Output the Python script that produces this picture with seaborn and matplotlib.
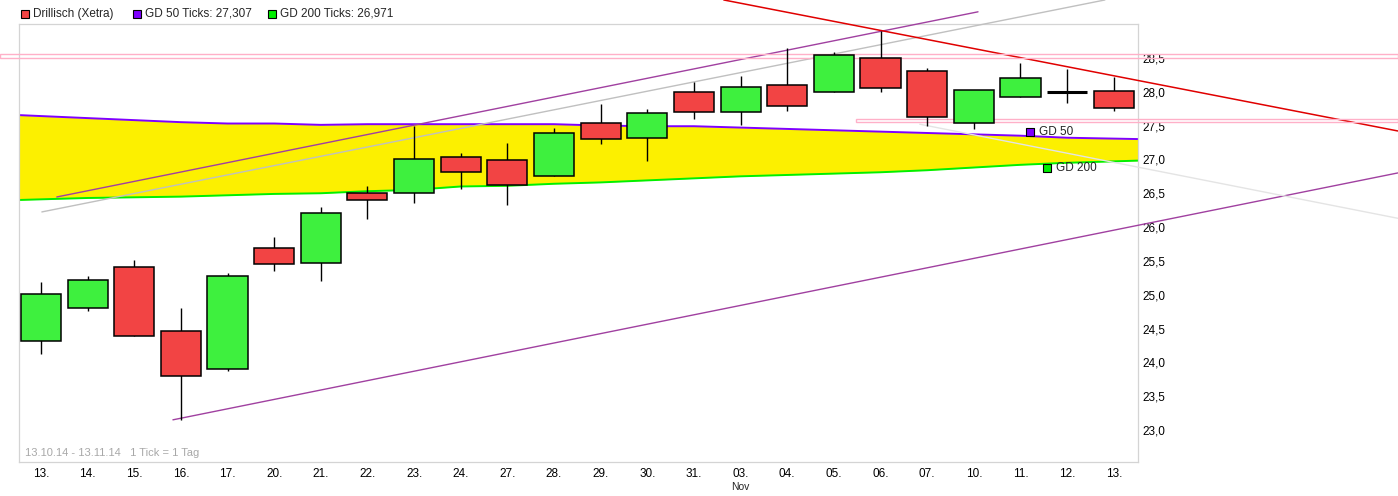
import numpy as np
import pandas as pd
import seaborn as sns
import matplotlib.pyplot as plt
from matplotlib.patches import Rectangle

# daily candles, Drillisch (Xetra), 13.10.14 - 13.11.14
days = ['13.', '14.', '15.', '16.', '17.', '20.', '21.', '22.', '23.', '24.', '27.', '28.',
        '29.', '30.', '31.', '03.', '04.', '05.', '06.', '07.', '10.', '11.', '12.', '13.']
opens = [24.31, 24.80, 25.41, 24.46, 23.90, 25.69, 25.47, 26.50, 26.50, 27.04, 26.99, 26.75,
         27.54, 27.32, 28.00, 27.70, 28.10, 28.00, 28.50, 28.31, 27.54, 27.92, 28.00, 28.01]
highs = [25.19, 25.28, 25.51, 24.80, 25.32, 25.85, 26.30, 26.61, 27.49, 27.09, 27.24, 27.46,
         27.82, 27.75, 28.14, 28.23, 28.65, 28.59, 28.90, 28.35, 28.03, 28.43, 28.34, 28.22]
lows = [24.12, 24.76, 24.39, 23.15, 23.88, 25.35, 25.20, 26.12, 26.35, 26.57, 26.33, 26.75,
        27.23, 26.98, 27.60, 27.51, 27.72, 28.00, 28.00, 27.49, 27.45, 27.92, 27.83, 27.72]
closes = [25.01, 25.22, 24.39, 23.80, 25.28, 25.45, 26.21, 26.40, 27.01, 26.81, 26.62, 27.39,
          27.30, 27.69, 27.70, 28.07, 27.79, 28.54, 28.06, 27.63, 28.03, 28.20, 28.00, 27.76]

# moving averages
gd50 = [27.64, 27.61, 27.58, 27.55, 27.53, 27.53, 27.51, 27.52, 27.52, 27.52, 27.52, 27.52,
        27.50, 27.49, 27.49, 27.47, 27.45, 27.43, 27.41, 27.39, 27.37, 27.35, 27.32, 27.307]
gd200 = [26.41, 26.43, 26.44, 26.45, 26.47, 26.49, 26.50, 26.53, 26.55, 26.60, 26.61, 26.64,
         26.66, 26.69, 26.72, 26.75, 26.77, 26.79, 26.81, 26.84, 26.88, 26.92, 26.95, 26.971]

# drawn trend lines: (day index, price) end points
upper_channel = [(0.34, 26.445), (20.09, 29.18)]
gray_line = [(0.02, 26.224), (22.81, 29.355)]
red_line = [(14.64, 29.355), (29.09, 27.42)]
lower_channel = [(2.83, 23.153), (29.09, 26.80)]
light_line = [(18.84, 27.52), (29.09, 26.13)]
# horizontal marker bands (from day, to day, low, high)
bands = [(-0.88, 29.09, 28.505, 28.56), (17.47, 29.09, 27.545, 27.60)]

sns.set_theme(style='white')
plt.rcParams['font.family'] = ['Liberation Sans', 'DejaVu Sans']

W, H = 1398, 496
fig = plt.figure(figsize=(W / 100, H / 100), dpi=100)
ax = fig.add_axes([19 / W, 34 / H, 1119 / W, 438 / H])

x = np.arange(len(days))
x_left, x_right = -0.47, 23.52


def extend(v):
    # carry the average out to the frame edges
    v = np.asarray(v, dtype=float)
    return np.r_[v[0] - (v[1] - v[0]) * 0.47, v, v[-1] + (v[-1] - v[-2]) * 0.52]


ext_x = np.r_[x_left, x, x_right]
ax.fill_between(ext_x, extend(gd200), extend(gd50), color='#fcf000', lw=0, zorder=1)

ma = pd.DataFrame({'x': ext_x, 'GD 50': extend(gd50), 'GD 200': extend(gd200)})
ma = ma.melt(id_vars='x', var_name='line', value_name='price')
sns.lineplot(data=ma, x='x', y='price', hue='line', palette={'GD 50': '#7f00ff', 'GD 200': '#00f000'},
             legend=False, ax=ax, lw=1.4, zorder=2)

# trend lines (they run past the frame)
for pts, col, lw in [(upper_channel, '#a040a0', 1.0), (gray_line, '#c0c0c0', 1.0),
                     (red_line, '#e00000', 1.1), (lower_channel, '#a040a0', 1.0),
                     (light_line, '#e4e4e4', 1.0)]:
    ax.plot([p[0] for p in pts], [p[1] for p in pts], color=col, lw=lw, clip_on=False, zorder=3)

for x0, x1, y0, y1 in bands:
    ax.add_patch(Rectangle((x0, y0), x1 - x0, y1 - y0, fill=False, edgecolor='#ffb0c8',
                           lw=1.0, clip_on=False, zorder=3))

# candles
o, c = np.array(opens), np.array(closes)
colors = np.where(c >= o, '#3ef03e', '#f24444')
edge_w = np.where(np.isclose(o, c), 2.2, 1.1)
ax.vlines(x, lows, highs, color='black', lw=1.0, zorder=4)
ax.bar(x, np.abs(c - o), bottom=np.minimum(o, c), width=0.86, color=colors,
       edgecolor='black', linewidth=edge_w, zorder=5)

# labels for the averages
ax.scatter([21.2], [gd50[-1] + 0.098], marker='s', s=36, color='#7f00ff', edgecolor='black', lw=0.8, zorder=6)
ax.annotate('GD 50', (21.2, gd50[-1] + 0.098), xytext=(6.5, 0), textcoords='offset points',
            va='center', fontsize=8.5, zorder=6)
ax.scatter([21.56], [gd200[-1] - 0.097], marker='s', s=36, color='#00f000', edgecolor='black', lw=0.8, zorder=6)
ax.annotate('GD 200', (21.56, gd200[-1] - 0.097), xytext=(6.5, 0), textcoords='offset points',
            va='center', fontsize=8.5, zorder=6)

ax.set_xlim(x_left, x_right)
ax.set_ylim(22.53, 29.0)
ax.set_xticks(x)
ax.set_xticklabels(days)
yt = np.arange(23.0, 28.51, 0.5)
ax.set_yticks(yt)
ax.set_yticklabels([f'{v:.1f}'.replace('.', ',') for v in yt])
ax.yaxis.tick_right()
ax.tick_params(axis='both', length=0, labelsize=8.5, colors='black')
ax.tick_params(axis='y', pad=3)
ax.tick_params(axis='x', pad=4)
ax.set_xlabel('')
ax.set_ylabel('')
for s in ax.spines.values():
    s.set_color('#d4d4d4')
    s.set_linewidth(0.9)

ax.annotate('Nov', (15, 0), xycoords=('data', 'axes fraction'), xytext=(0, -18),
            textcoords='offset points', ha='center', va='center', fontsize=7.5)
ax.text(0.005, 0.01, '13.10.14 - 13.11.14   1 Tick = 1 Tag',
        transform=ax.transAxes, fontsize=8, color='#a8a8a8', va='bottom', ha='left')

# legend row on top
for px, col, label in [(21, '#f24444', 'Drillisch (Xetra)'), (133, '#7f00ff', 'GD 50 Ticks: 27,307'),
                       (268, '#00f000', 'GD 200 Ticks: 26,971')]:
    fig.patches.append(Rectangle((px / W, (H - 17.5) / H), 8 / W, 8 / H, transform=fig.transFigure,
                                 facecolor=col, edgecolor='black', lw=0.8))
    fig.text((px + 12) / W, (H - 14) / H, label, fontsize=8.5, va='center', ha='left')

fig.savefig('out.png', dpi=100, facecolor='white')
